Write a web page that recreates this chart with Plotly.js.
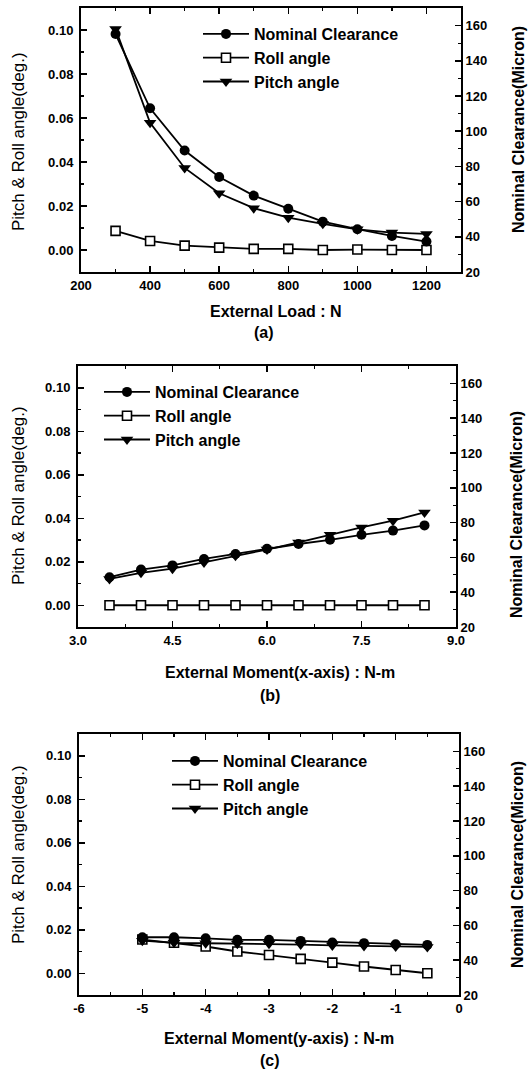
<!DOCTYPE html>
<html>
<head>
<meta charset="utf-8">
<script src="https://cdn.plot.ly/plotly-3.0.1.min.js"></script>
<style>html,body{margin:0;padding:0;background:#fff;}#chart{width:529px;height:1069px;}</style>
</head>
<body>
<div id="chart"></div>
<script>
// ---------- data ----------
const seriesNames = ["Nominal Clearance", "Roll angle", "Pitch angle"];

// (a) External Load : N
const loadN   = [300, 400, 500, 600, 700, 800, 900, 1000, 1100, 1200];
const clearA  = [155.2, 113.0, 89.0, 74.0, 63.4, 55.9, 48.6, 44.3, 40.5, 37.3];
const rollA   = [0.0087, 0.0041, 0.0020, 0.0011, 0.0005, 0.0005, 0.0000, 0.0002, 0.0000, 0.0000];
const pitchA  = [0.1005, 0.0578, 0.0373, 0.0258, 0.0190, 0.0147, 0.0119, 0.0094, 0.0079, 0.0073];

// (b) External Moment(x-axis) : N-m
const momentX = [3.5, 4.0, 4.5, 5.0, 5.5, 6.0, 6.5, 7.0, 7.5, 8.0, 8.5];
const clearB  = [48.6, 53.0, 55.4, 59.1, 62.0, 65.0, 67.7, 70.1, 73.0, 75.4, 78.4];
const rollB   = [0.0000, 0.0000, 0.0000, 0.0000, 0.0000, 0.0000, 0.0000, 0.0000, 0.0000, 0.0000, 0.0000];
const pitchB  = [0.0121, 0.0149, 0.0168, 0.0197, 0.0228, 0.0256, 0.0289, 0.0324, 0.0358, 0.0389, 0.0427];

// (c) External Moment(y-axis) : N-m
const momentY = [-5.0, -4.5, -4.0, -3.5, -3.0, -2.5, -2.0, -1.5, -1.0, -0.5];
const clearC  = [53.2, 53.2, 52.6, 51.7, 51.7, 51.1, 50.2, 49.8, 49.2, 48.8];
const rollC   = [0.0155, 0.0140, 0.0123, 0.0100, 0.0084, 0.0066, 0.0049, 0.0031, 0.0015, 0.0000];
const pitchC  = [0.0150, 0.0140, 0.0138, 0.0136, 0.0136, 0.0132, 0.0128, 0.0125, 0.0123, 0.0121];

const xTicksC = [-6, -5, -4, -3, -2, -1, 0];
const xTickTextC = ["-6", "-5", "-4", "-3", "-2", "-1", "0"];

const xTitles = ["External Load : N", "External Moment(x-axis) : N-m", "External Moment(y-axis) : N-m"];
const panelLabels = ["(a)", "(b)", "(c)"];
const leftTitle = "Pitch & Roll angle(deg.)";
const rightTitle = "Nominal Clearance(Micron)";

// ---------- layout helpers ----------
const W = 529, H = 1069;
const fx = p => p / W;
const fy = p => 1 - p / H;
const FONT = '"Liberation Sans", Arial, sans-serif';

const panels = [
  {x0: 81, x1: 461, y0: 8,   y1: 272, leg: [198, 17],  xt: [276, 311], lab: [264, 333], lt: [18, 142], rt: [518, 130]},
  {x0: 78, x1: 456, y0: 366, y1: 627, leg: [99, 375],  xt: [280, 672], lab: [270, 695], lt: [18, 496], rt: [517, 515]},
  {x0: 79, x1: 459, y0: 734, y1: 995, leg: [167, 744], xt: [279, 1038], lab: [270, 1060], lt: [18, 855], rt: [517, 865]}
];

const xs = [loadN, momentX, momentY];
const clears = [clearA, clearB, clearC];
const rolls = [rollA, rollB, rollC];
const pitches = [pitchA, pitchB, pitchC];

const lineStyle = {color: '#000', width: 1.8};
const data = [];
const layout = {
  width: W, height: H,
  margin: {l: 0, r: 0, t: 0, b: 0},
  paper_bgcolor: '#fff', plot_bgcolor: '#fff',
  font: {family: FONT, color: '#000'},
  showlegend: true,
  annotations: []
};

const tickFont = {family: FONT, size: 13, color: '#000', weight: 'bold'};

panels.forEach((p, i) => {
  const n = i + 1;
  const xa = n === 1 ? 'x' : 'x' + n;
  const yl = 'y' + (2 * i + 1 === 1 ? '' : (2 * i + 1));
  const yr = 'y' + (2 * i + 2);
  const legName = n === 1 ? 'legend' : 'legend' + n;

  data.push({
    x: xs[i], y: clears[i], xaxis: xa, yaxis: yr, name: seriesNames[0], legend: legName,
    mode: 'lines+markers', line: lineStyle,
    marker: {symbol: 'circle', size: 10, color: '#000'}
  });
  data.push({
    x: xs[i], y: rolls[i], xaxis: xa, yaxis: yl, name: seriesNames[1], legend: legName,
    mode: 'lines+markers', line: lineStyle,
    marker: {symbol: 'square', size: 9, color: '#fff', line: {color: '#000', width: 1.6}}
  });
  data.push({
    x: xs[i], y: pitches[i], xaxis: xa, yaxis: yl, name: seriesNames[2], legend: legName,
    mode: 'lines+markers', line: lineStyle,
    marker: {symbol: 'triangle-down', size: 11, color: '#000'}
  });

  const xKey = n === 1 ? 'xaxis' : 'xaxis' + n;
  const ylKey = 'yaxis' + (2 * i + 1 === 1 ? '' : (2 * i + 1));
  const yrKey = 'yaxis' + (2 * i + 2);

  const xaxis = {
    domain: [fx(p.x0), fx(p.x1)],
    anchor: yl,
    showline: true, linecolor: '#000', linewidth: 2, mirror: 'ticks',
    ticks: 'inside', ticklen: 6, tickwidth: 1.5, tickcolor: '#000',
    showgrid: false, zeroline: false,
    tickfont: tickFont,
    minor: {ticks: 'inside', ticklen: 3, tickwidth: 1.2, tickcolor: '#000', showgrid: false}
  };
  if (i === 0) { Object.assign(xaxis, {range: [200, 1300], dtick: 200, tick0: 200}); xaxis.minor.dtick = 100; }
  if (i === 1) { Object.assign(xaxis, {range: [3, 9], dtick: 1.5, tick0: 3, tickformat: '.1f'}); xaxis.minor.dtick = 0.75; }
  if (i === 2) { Object.assign(xaxis, {range: [-6, 0], tickmode: 'array', tickvals: xTicksC, ticktext: xTickTextC}); xaxis.minor.tickmode = 'linear'; xaxis.minor.tick0 = -6; xaxis.minor.dtick = 0.5; }
  layout[xKey] = xaxis;

  layout[ylKey] = {
    domain: [fy(p.y1), fy(p.y0)],
    anchor: xa,
    range: [-0.01, 0.11], dtick: 0.02, tick0: 0, tickformat: '.2f',
    showline: true, linecolor: '#000', linewidth: 2, mirror: false,
    ticks: 'inside', ticklen: 6, tickwidth: 1.5, tickcolor: '#000',
    showgrid: false, zeroline: false,
    tickfont: tickFont, ticklabelstandoff: 3,
    minor: {ticks: 'inside', ticklen: 3, tickwidth: 1.2, tickcolor: '#000', dtick: 0.01, showgrid: false}
  };
  layout[yrKey] = {
    overlaying: yl, side: 'right', anchor: xa,
    range: [20, 170], dtick: 20, tick0: 20,
    showline: true, linecolor: '#000', linewidth: 2,
    ticks: 'inside', ticklen: 6, tickwidth: 1.5, tickcolor: '#000',
    showgrid: false, zeroline: false,
    tickfont: tickFont, ticklabelstandoff: 0,
    minor: {ticks: 'inside', ticklen: 3, tickwidth: 1.2, tickcolor: '#000', dtick: 10, showgrid: false}
  };

  layout[legName] = {
    x: fx(p.leg[0]), y: fy(p.leg[1]), xanchor: 'left', yanchor: 'top',
    bgcolor: 'rgba(0,0,0,0)', borderwidth: 0,
    itemwidth: 46, tracegroupgap: 0,
    font: {family: FONT, size: 16, color: '#000', weight: 'bold'}
  };

  layout.annotations.push(
    {xref: 'paper', yref: 'paper', x: fx(p.xt[0]), y: fy(p.xt[1]), xanchor: 'center', yanchor: 'middle',
     text: xTitles[i], showarrow: false, font: {family: FONT, size: 16, color: '#000', weight: 'bold'}},
    {xref: 'paper', yref: 'paper', x: fx(p.lab[0]), y: fy(p.lab[1]), xanchor: 'center', yanchor: 'middle',
     text: panelLabels[i], showarrow: false, font: {family: FONT, size: 16, color: '#000', weight: 'bold'}},
    {xref: 'paper', yref: 'paper', x: fx(p.lt[0]), y: fy(p.lt[1]), xanchor: 'center', yanchor: 'middle',
     text: leftTitle, textangle: -90, showarrow: false, font: {family: FONT, size: 17, color: '#000'}},
    {xref: 'paper', yref: 'paper', x: fx(p.rt[0]), y: fy(p.rt[1]), xanchor: 'center', yanchor: 'middle',
     text: rightTitle, textangle: -90, showarrow: false, font: {family: FONT, size: 16, color: '#000', weight: 'bold'}}
  );
});

Plotly.newPlot('chart', data, layout, {staticPlot: true, displayModeBar: false});
</script>
</body>
</html>
